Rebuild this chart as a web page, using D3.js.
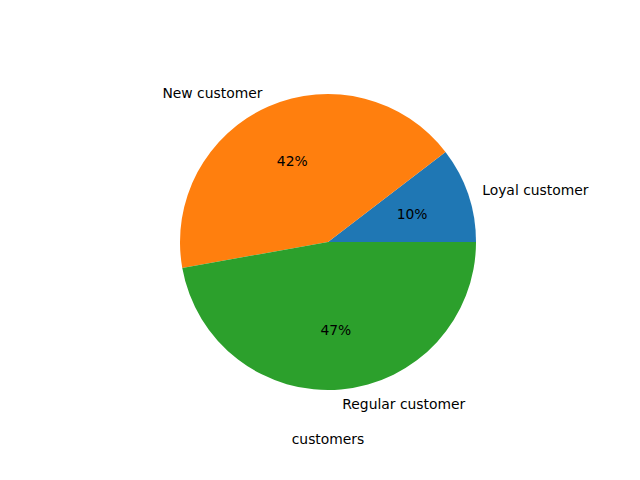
<!DOCTYPE html>
<html><head><meta charset="utf-8">
<script src="https://cdn.jsdelivr.net/npm/d3@7"></script>
<style>body{margin:0;background:#fff}text{font-family:"DejaVu Sans",sans-serif;font-size:13.89px;fill:#000}</style>
</head><body><svg id="c" width="640" height="480"></svg>
<script>
const categories = ["Loyal customer", "New customer", "Regular customer"];
const values = [52, 212, 236];
const colors = ["#1f77b4", "#ff7f0e", "#2ca02c"];
const xLabel = "customers";

const svg = d3.select("#c");
const cx = 328, cy = 242, r = 148;
const g = svg.append("g").attr("transform", `translate(${cx},${cy})`);
const pie = d3.pie().sort(null).startAngle(Math.PI/2).endAngle(Math.PI/2 - 2*Math.PI);
const arcs = pie(values);
const arc = d3.arc().innerRadius(0).outerRadius(r);
const total = d3.sum(values);
g.selectAll("path").data(arcs).join("path").attr("d", arc).attr("fill", (d,i)=>colors[i]);
arcs.forEach((d,i)=>{
  const mid = (d.startAngle + d.endAngle)/2;
  const sx = Math.sin(mid), sy = -Math.cos(mid);
  g.append("text").attr("x", 1.1*r*sx).attr("y", 1.1*r*sy)
    .attr("text-anchor", sx > 0 ? "start" : "end").attr("dominant-baseline","central")
    .text(categories[i]);
  g.append("text").attr("x", 0.6*r*sx).attr("y", 0.6*r*sy)
    .attr("text-anchor","middle").attr("dominant-baseline","central")
    .text(Math.round(values[i]/total*100) + "%");
});
svg.append("text").attr("x", cx).attr("y", 439).attr("text-anchor","middle")
  .attr("dominant-baseline","central").text(xLabel);
</script></body></html>
